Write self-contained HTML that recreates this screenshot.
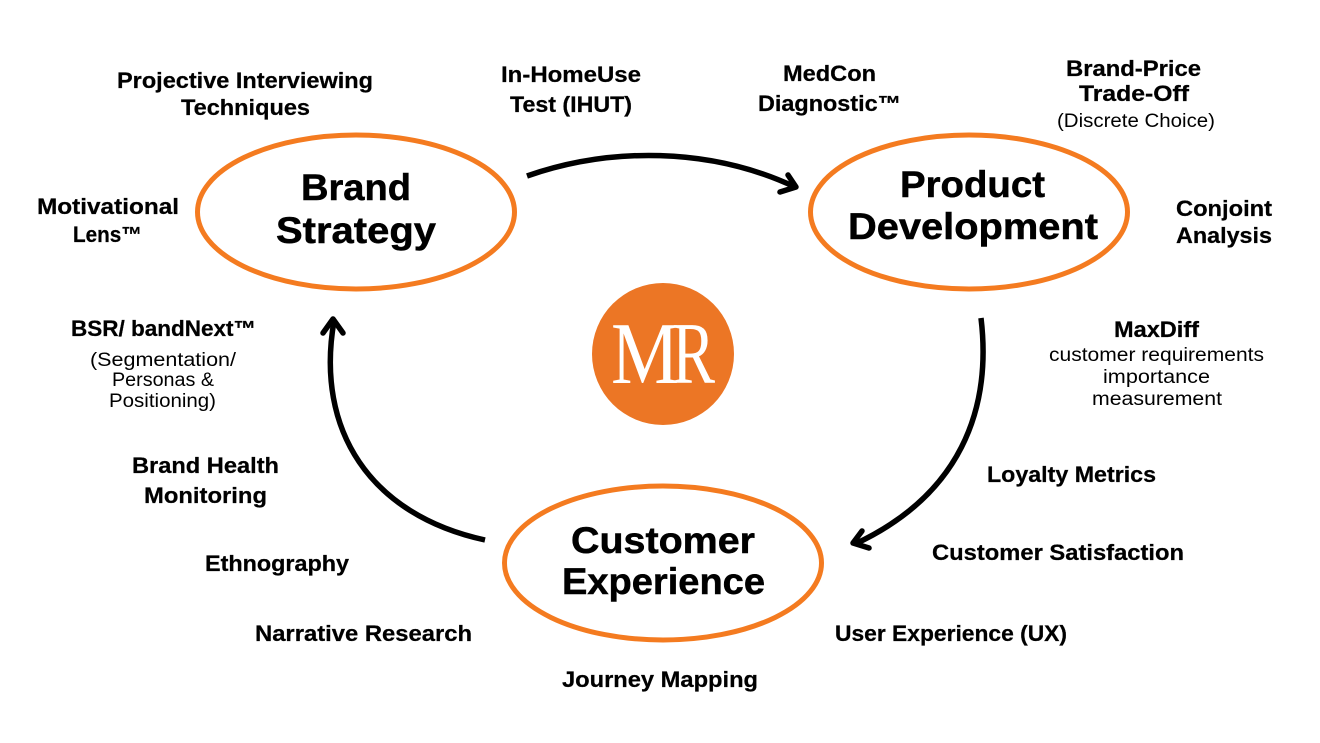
<!DOCTYPE html>
<html><head><meta charset="utf-8"><style>
html,body{margin:0;padding:0;background:#fff}
svg{display:block}
text{font-family:"Liberation Sans",sans-serif;fill:#000}
.b{font-weight:700;font-size:22px;stroke:#000;stroke-width:.25px}
.r{font-weight:400;font-size:19px}
.h{font-weight:700;font-size:37px;stroke:#000;stroke-width:.5px}
</style></head><body>
<svg width="1320" height="743" viewBox="0 0 1320 743" xmlns="http://www.w3.org/2000/svg">
<rect width="1320" height="743" fill="#fff"/>
<g fill="none" stroke="#F47B20" stroke-width="5">
<ellipse cx="356" cy="212" rx="158.500" ry="77"/>
<ellipse cx="969" cy="212" rx="158.500" ry="77"/>
<ellipse cx="663" cy="563" rx="158.500" ry="77"/>
</g>
<g fill="none" stroke="#000" stroke-width="5.500" stroke-linecap="round" stroke-linejoin="round">
<path stroke-linecap="butt" d="M527 176C610 147 710 147 795 187"/>
<path d="M788 175L796 187L780 192"/>
<path stroke-linecap="butt" d="M981 318C992 410 960 495 855 544"/>
<path d="M862 531L853 543L869 548"/>
<path stroke-linecap="butt" d="M485 540C370 515 315 430 334 321"/>
<path d="M323 333L333 319L343 333"/>
</g>
<circle cx="663" cy="354" r="71" fill="#EC7625"/>
<text x="611" y="383" textLength="68" lengthAdjust="spacingAndGlyphs" style="font-family:'Liberation Serif',serif;font-size:88px;fill:#fff">M</text>
<text x="672" y="383" textLength="43" lengthAdjust="spacingAndGlyphs" style="font-family:'Liberation Serif',serif;font-size:88px;fill:#fff">R</text>

<text class="h" x="301" y="200" textLength="110" lengthAdjust="spacingAndGlyphs">Brand</text>
<text class="h" x="276" y="243" textLength="160" lengthAdjust="spacingAndGlyphs">Strategy</text>
<text class="h" x="900" y="197" textLength="145" lengthAdjust="spacingAndGlyphs">Product</text>
<text class="h" x="848" y="239" textLength="250" lengthAdjust="spacingAndGlyphs">Development</text>
<text class="h" x="571" y="553" textLength="184" lengthAdjust="spacingAndGlyphs">Customer</text>
<text class="h" x="562" y="594" textLength="203" lengthAdjust="spacingAndGlyphs">Experience</text>

<text class="b" x="117" y="88" textLength="256" lengthAdjust="spacingAndGlyphs">Projective Interviewing</text>
<text class="b" x="181" y="115" textLength="129" lengthAdjust="spacingAndGlyphs">Techniques</text>
<text class="b" x="501" y="82" textLength="140" lengthAdjust="spacingAndGlyphs">In-HomeUse</text>
<text class="b" x="510" y="112" textLength="122" lengthAdjust="spacingAndGlyphs">Test (IHUT)</text>
<text class="b" x="783" y="81" textLength="93" lengthAdjust="spacingAndGlyphs">MedCon</text>
<text class="b" x="758" y="111" textLength="143" lengthAdjust="spacingAndGlyphs">Diagnostic™</text>
<text class="b" x="1066" y="76" textLength="135" lengthAdjust="spacingAndGlyphs">Brand-Price</text>
<text class="b" x="1079" y="101" textLength="110" lengthAdjust="spacingAndGlyphs">Trade-Off</text>
<text class="r" x="1057" y="127" textLength="158" lengthAdjust="spacingAndGlyphs">(Discrete Choice)</text>
<text class="b" x="37" y="214" textLength="142" lengthAdjust="spacingAndGlyphs">Motivational</text>
<text class="b" x="73" y="242" textLength="69" lengthAdjust="spacingAndGlyphs">Lens™</text>
<text class="b" x="1176" y="216" textLength="96" lengthAdjust="spacingAndGlyphs">Conjoint</text>
<text class="b" x="1176" y="243" textLength="96" lengthAdjust="spacingAndGlyphs">Analysis</text>
<text class="b" x="71" y="336" textLength="185" lengthAdjust="spacingAndGlyphs">BSR/ bandNext™</text>
<text class="r" x="90" y="366" textLength="146" lengthAdjust="spacingAndGlyphs">(Segmentation/</text>
<text class="r" x="112" y="386" textLength="102" lengthAdjust="spacingAndGlyphs">Personas &amp;</text>
<text class="r" x="109" y="407" textLength="107" lengthAdjust="spacingAndGlyphs">Positioning)</text>
<text class="b" x="1114" y="337" textLength="85" lengthAdjust="spacingAndGlyphs">MaxDiff</text>
<text class="r" x="1049" y="361" textLength="215" lengthAdjust="spacingAndGlyphs">customer requirements</text>
<text class="r" x="1103" y="383" textLength="107" lengthAdjust="spacingAndGlyphs">importance</text>
<text class="r" x="1092" y="405" textLength="130" lengthAdjust="spacingAndGlyphs">measurement</text>
<text class="b" x="132" y="473" textLength="147" lengthAdjust="spacingAndGlyphs">Brand Health</text>
<text class="b" x="144" y="503" textLength="123" lengthAdjust="spacingAndGlyphs">Monitoring</text>
<text class="b" x="987" y="482" textLength="169" lengthAdjust="spacingAndGlyphs">Loyalty Metrics</text>
<text class="b" x="932" y="560" textLength="252" lengthAdjust="spacingAndGlyphs">Customer Satisfaction</text>
<text class="b" x="205" y="571" textLength="144" lengthAdjust="spacingAndGlyphs">Ethnography</text>
<text class="b" x="255" y="641" textLength="217" lengthAdjust="spacingAndGlyphs">Narrative Research</text>
<text class="b" x="835" y="641" textLength="232" lengthAdjust="spacingAndGlyphs">User Experience (UX)</text>
<text class="b" x="562" y="687" textLength="196" lengthAdjust="spacingAndGlyphs">Journey Mapping</text>
</svg>
</body></html>
